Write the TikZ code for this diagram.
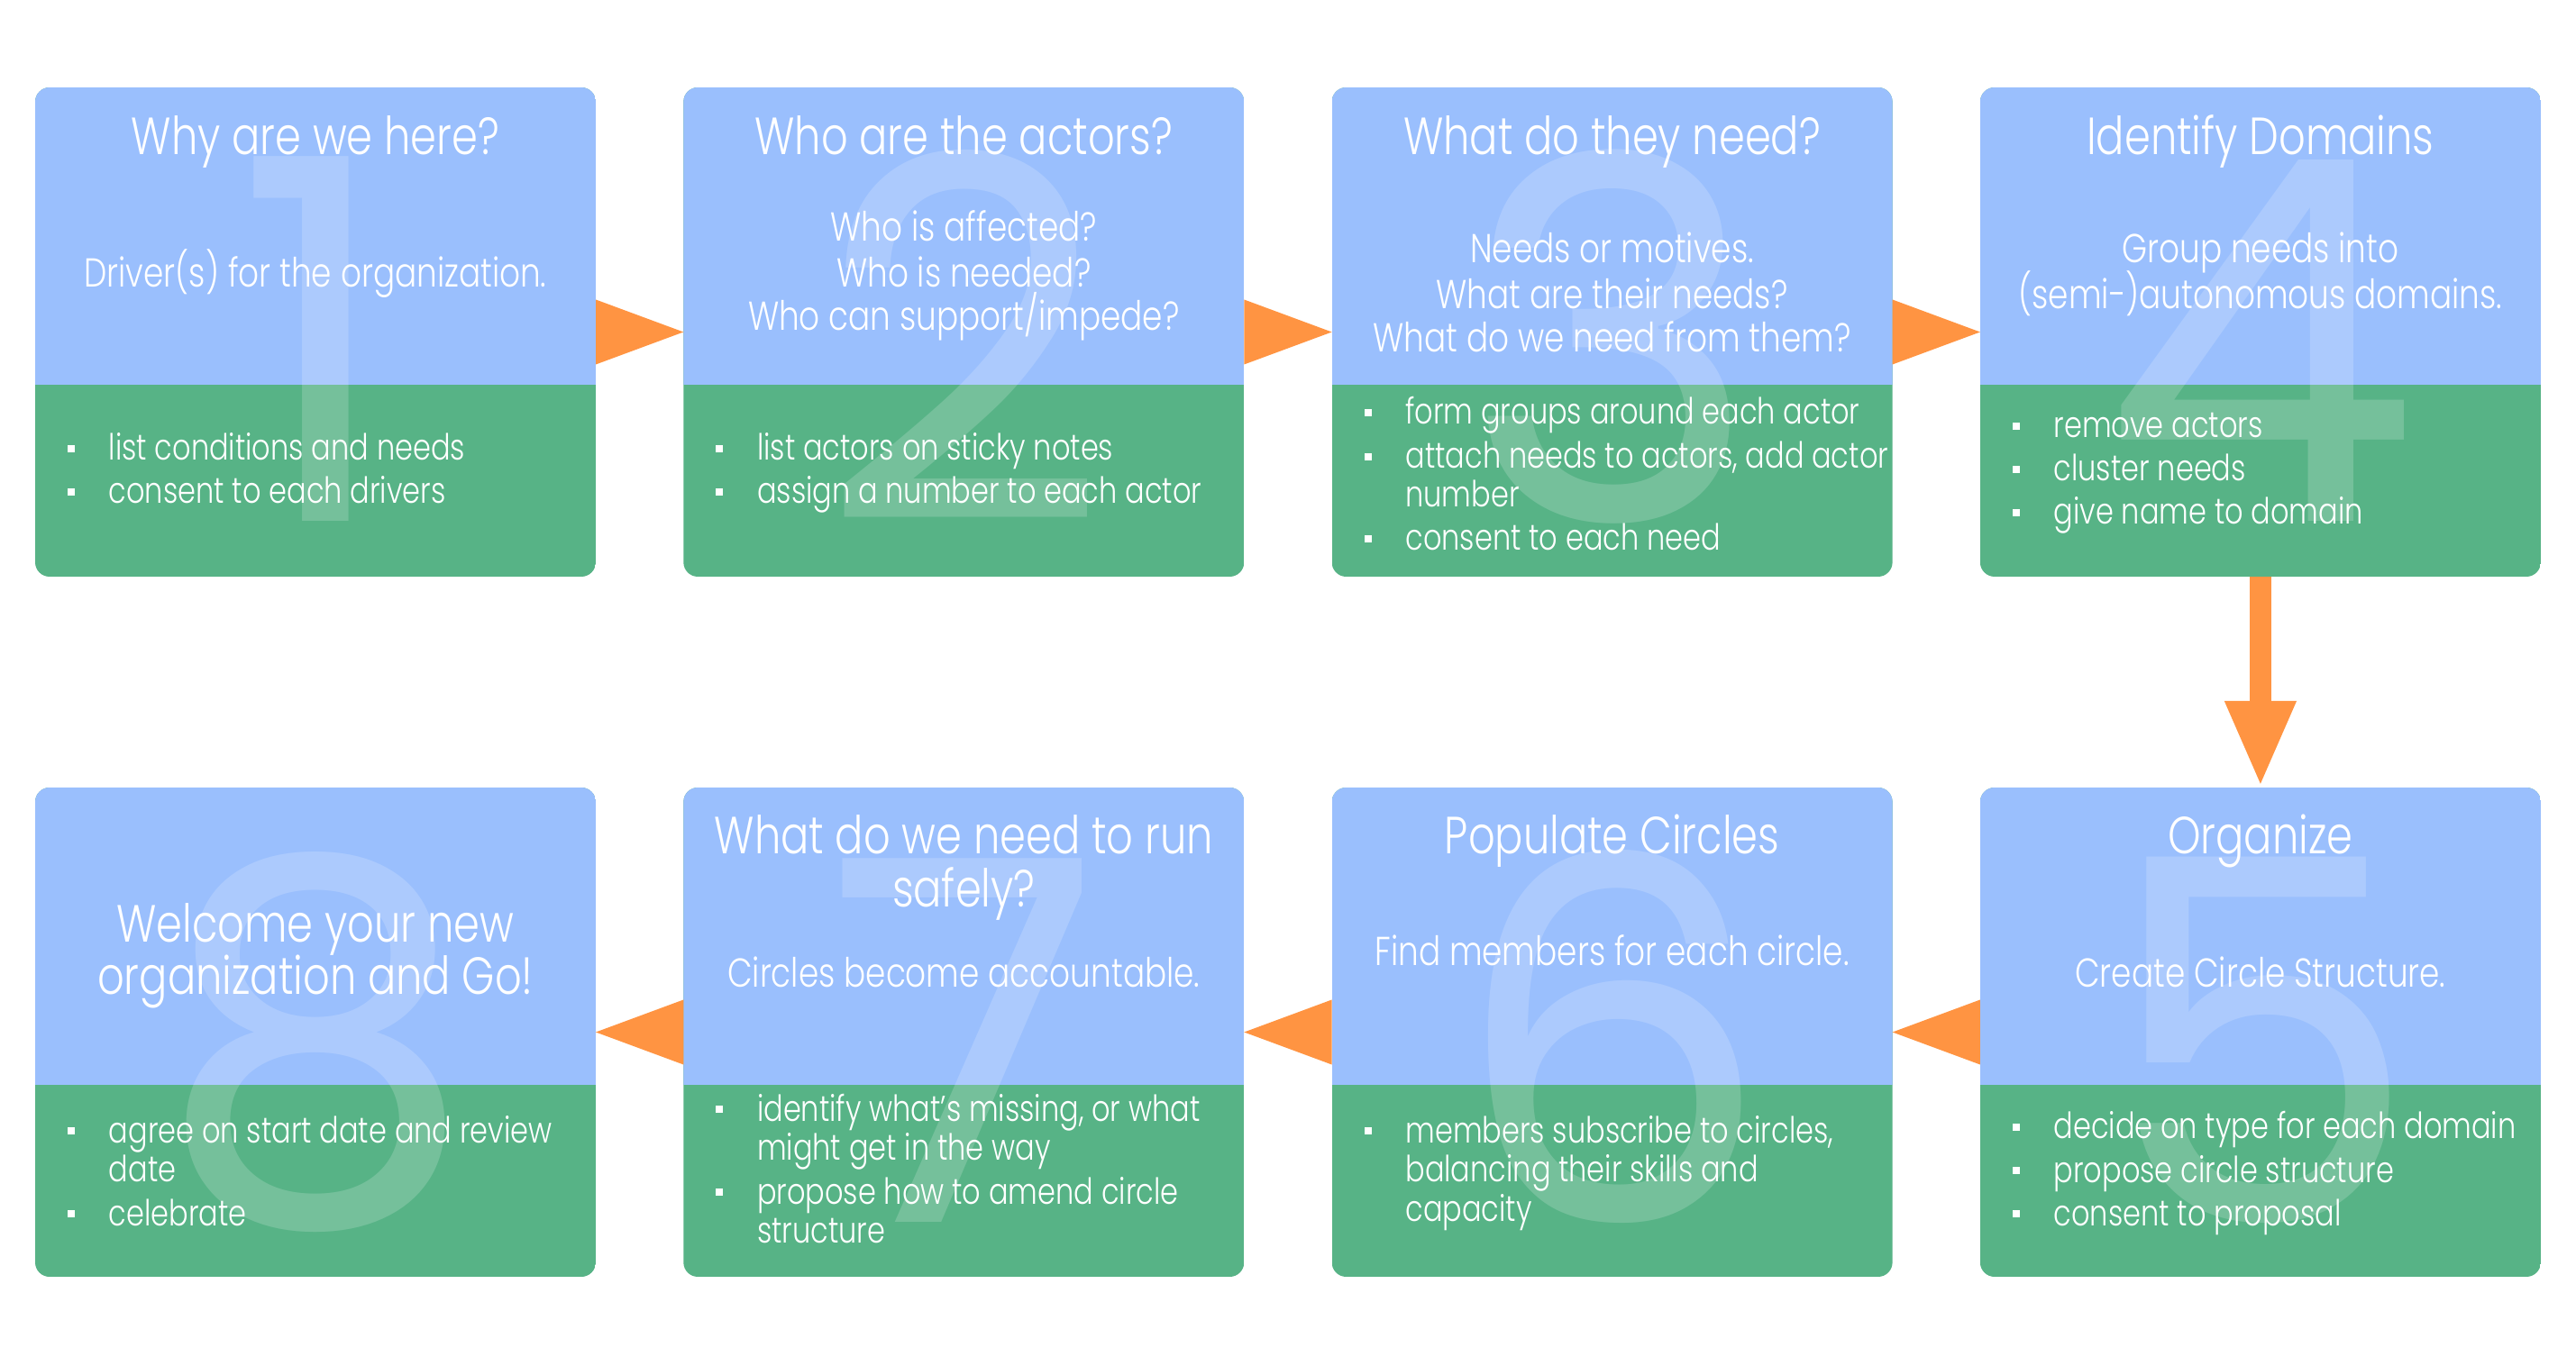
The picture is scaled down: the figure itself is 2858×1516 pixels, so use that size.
\documentclass[tikz,border=0pt]{standalone}
\usepackage{fontspec}
\IfFontExistsTF{Poppins Light}{\setmainfont{Poppins Light}[FakeStretch=0.80]}{\setmainfont{Poppins}[FakeStretch=0.80]}
\newfontfamily\digitfont{Poppins}
\usetikzlibrary{arrows.meta,calc}
\definecolor{boxblue}{RGB}{154,191,253}
\definecolor{boxgreen}{RGB}{87,179,134}
\definecolor{arroworange}{RGB}{255,148,66}
\tikzset{
  stage/.style={rectangle, minimum width=155.5pt, minimum height=135.75pt, inner sep=0pt, outer sep=0pt},
  titletext/.style={anchor=base, text=white, inner sep=0pt, font=\fontsize{14.5}{17}\selectfont},
  subtext/.style={anchor=base, text=white, inner sep=0pt, font=\fontsize{11.2}{13}\selectfont},
  bullettext/.style={anchor=base west, text=white, inner sep=0pt, font=\fontsize{10}{12}\selectfont},
  bigdigit/.style={anchor=base, text=white, text opacity=0.18, inner sep=0pt, font=\digitfont\fontsize{140}{140}\selectfont},
  flowtri/.style={fill=arroworange},
}
% #1 name, #2 left, #3 top, #4 digit
\newcommand\stagebox[4]{%
  \node[stage] (#1) at (#2+311,#3+271.5) {};
  \begin{scope}
    \clip[rounded corners=4pt] (#1.north west) rectangle (#1.south east);
    \fill[boxgreen] (#1.north west) rectangle (#1.south east);
    \fill[boxblue] (#1.north west) rectangle ($(#1.north east)+(0,330)$);
  \end{scope}
  \node[bigdigit] (#1num) at ($(#1.north)+(0,482)$) {#4};
}
% bullet item: #1 name, #2 box name, #3 baseline y, #4 text
\newcommand\bitem[4]{%
  \fill[white] ($(#2.west |- 0,#3)+(36,-17)$) rectangle +(8,8);
  \node[bullettext] (#1) at ($(#2.west |- 0,#3)+(81,0)$) {#4};
}
\newcommand\bcont[4]{%
  \node[bullettext] (#1) at ($(#2.west |- 0,#3)+(81,0)$) {#4};
}
\begin{document}
\begin{tikzpicture}[x=0.25pt,y=-0.25pt]
\useasboundingbox[fill=white] (0,0) rectangle (2858,1516);
% boxes
\stagebox{b1}{39}{97}{1}
\stagebox{b2}{758.3}{97}{2}
\stagebox{b3}{1477.6}{97}{3}
\stagebox{b4}{2196.9}{97}{4}
\stagebox{b5}{2196.9}{874}{5}
\stagebox{b6}{1477.6}{874}{6}
\stagebox{b7}{758.3}{874}{7}
\stagebox{b8}{39}{874}{8}
% connectors
\fill[flowtri] ($(b1.east)+(0,-36)$) -- ($(b1.east)+(0,36)$) -- (b2.west) -- cycle;
\fill[flowtri] ($(b2.east)+(0,-36)$) -- ($(b2.east)+(0,36)$) -- (b3.west) -- cycle;
\fill[flowtri] ($(b3.east)+(0,-36)$) -- ($(b3.east)+(0,36)$) -- (b4.west) -- cycle;
\draw[arroworange, line width=6pt, -{Triangle[width=18pt,length=24pt]}] (b4.south) -- (b5.north);
\fill[flowtri] ($(b5.west)+(0,-36)$) -- ($(b5.west)+(0,36)$) -- (b6.east) -- cycle;
\fill[flowtri] ($(b6.west)+(0,-36)$) -- ($(b6.west)+(0,36)$) -- (b7.east) -- cycle;
\fill[flowtri] ($(b7.west)+(0,-36)$) -- ($(b7.west)+(0,36)$) -- (b8.east) -- cycle;
% box 1
\node[titletext] (t1) at (b1.north |- 0,172) {Why are we here?};
\node[subtext] (s1a) at (b1.north |- 0,319) {Driver(s) for the organization.};
\bitem{l1a}{b1}{511}{list conditions and needs}
\bitem{l1b}{b1}{559}{consent to each drivers}
% box 2
\node[titletext] (t2) at (b2.north |- 0,172) {Who are the actors?};
\node[subtext] (s2a) at (b2.north |- 0,268) {Who is affected?};
\node[subtext] (s2b) at (b2.north |- 0,319) {Who is needed?};
\node[subtext] (s2c) at (b2.north |- 0,367) {Who can support/impede?};
\bitem{l2a}{b2}{511}{list actors on sticky notes}
\bitem{l2b}{b2}{559}{assign a number to each actor}
% box 3
\node[titletext] (t3) at (b3.north |- 0,172) {What do they need?};
\node[subtext] (s3a) at (b3.north |- 0,292) {Needs or motives.};
\node[subtext] (s3b) at (b3.north |- 0,343) {What are their needs?};
\node[subtext] (s3c) at (b3.north |- 0,391) {What do we need from them?};
\bitem{l3a}{b3}{471}{form groups around each actor}
\bitem{l3b}{b3}{520}{attach needs to actors, add actor}
\bcont{l3c}{b3}{563}{number}
\bitem{l3d}{b3}{611}{consent to each need}
% box 4
\node[titletext] (t4) at (b4.north |- 0,172) {Identify Domains};
\node[subtext] (s4a) at (b4.north |- 0,292) {Group needs into};
\node[subtext] (s4b) at (b4.north |- 0,343) {(semi-)autonomous domains.};
\bitem{l4a}{b4}{486}{remove actors}
\bitem{l4b}{b4}{534}{cluster needs}
\bitem{l4c}{b4}{582}{give name to domain}
% box 5
\node[titletext] (t5) at (b5.north |- 0,948) {Organize};
\node[subtext] (s5a) at (b5.north |- 0,1096) {Create Circle Structure.};
\bitem{l5a}{b5}{1264}{decide on type for each domain}
\bitem{l5b}{b5}{1312}{propose circle structure}
\bitem{l5c}{b5}{1360}{consent to proposal}
% box 6
\node[titletext] (t6) at (b6.north |- 0,948) {Populate Circles};
\node[subtext] (s6a) at (b6.north |- 0,1072) {Find members for each circle.};
\bitem{l6a}{b6}{1268}{members subscribe to circles,}
\bcont{l6b}{b6}{1311}{balancing their skills and}
\bcont{l6c}{b6}{1355}{capacity}
% box 7
\node[titletext] (t7a) at (b7.north |- 0,948) {What do we need to run};
\node[titletext] (t7b) at (b7.north |- 0,1007) {safely?};
\node[subtext] (s7a) at (b7.north |- 0,1096) {Circles become accountable.};
\bitem{l7a}{b7}{1244}{identify what’s missing, or what}
\bcont{l7b}{b7}{1287}{might get in the way}
\bitem{l7c}{b7}{1336}{propose how to amend circle}
\bcont{l7d}{b7}{1379}{structure}
% box 8
\node[titletext] (t8a) at (b8.north |- 0,1046) {Welcome your new};
\node[titletext] (t8b) at (b8.north |- 0,1104) {organization and Go!};
\bitem{l8a}{b8}{1268}{agree on start date and review}
\bcont{l8b}{b8}{1311}{date}
\bitem{l8c}{b8}{1360}{celebrate}
\end{tikzpicture}
\end{document}
